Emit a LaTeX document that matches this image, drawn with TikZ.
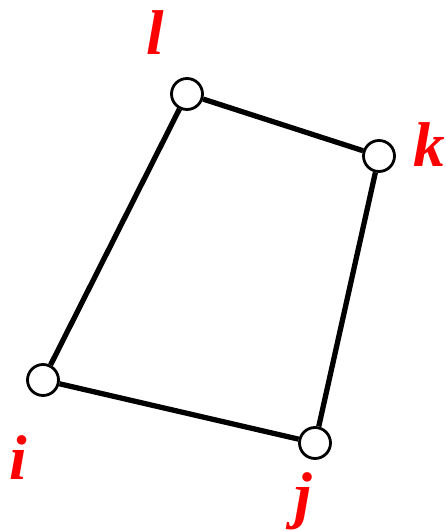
\documentclass[tikz,border=0pt]{standalone}
\usepackage{fontspec}
\setmainfont{Liberation Serif}
\tikzset{
  vertex/.style={circle,draw,line width=1.6pt,fill=white,minimum size=0.62cm,inner sep=0pt},
  edge/.style={line width=3pt},
  lab/.style={text=red,font=\fontsize{36}{40}\selectfont\bfseries\itshape}
}
\begin{document}
\begin{tikzpicture}[scale=0.02]
  \useasboundingbox (0,0) rectangle (445,531);
  \node[vertex] (i) at (43,151) {};
  \node[vertex] (j) at (315,88) {};
  \node[vertex] (k) at (379,375) {};
  \node[vertex] (l) at (187,437) {};
  \draw[edge] (i) -- (j) -- (k) -- (l) -- (i);
  \node[lab] (li) at (18,73) {i};
  \node[lab] (lj) at (303,30) {j};
  \node[lab] (lk) at (429,386) {k};
  \node[lab] (ll) at (155,498) {l};
\end{tikzpicture}
\end{document}
